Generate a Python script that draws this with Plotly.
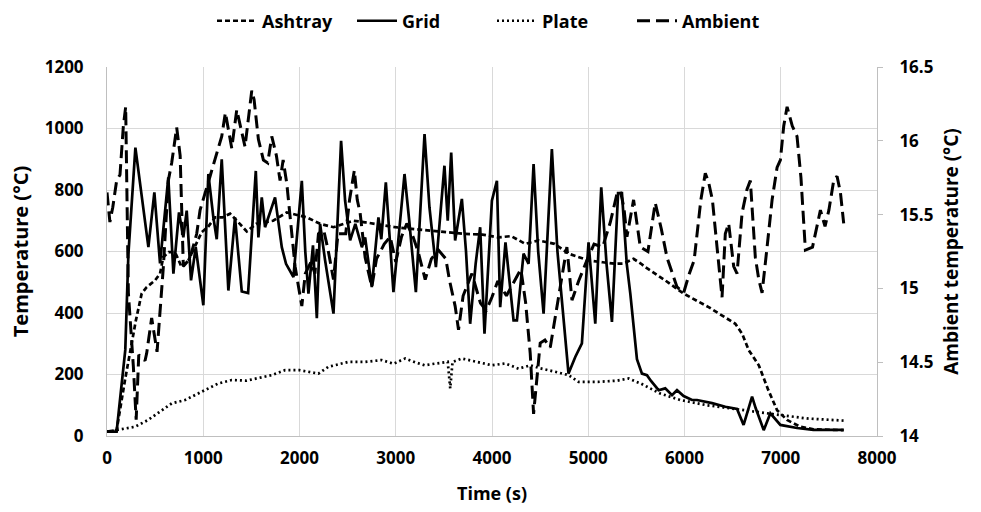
import plotly.graph_objects as go

# ---- data ----
grid_t = [0, 100, 190, 222, 295, 430, 492, 551, 637, 690, 748, 793, 828, 873, 922, 1001, 1053, 1105, 1140, 1192,
          1261, 1330, 1400, 1466, 1546, 1573, 1608, 1642, 1746, 1816, 1860, 1937, 2024, 2060, 2093, 2140, 2180,
          2214, 2266, 2353, 2432, 2474, 2526, 2580, 2648, 2682, 2751, 2820, 2850, 2897, 2976, 3091, 3140, 3209,
          3299, 3350, 3417, 3506, 3540, 3576, 3617, 3687, 3730, 3773, 3830, 3877, 3922, 3999, 4051, 4085, 4140,
          4180, 4224, 4259, 4328, 4380, 4432, 4480, 4536, 4622, 4680, 4795, 4865, 4934, 5003, 5073, 5135, 5190,
          5246, 5310, 5350, 5400, 5437, 5506, 5558, 5610, 5650, 5731, 5800, 5870, 5922, 5991, 6078, 6130, 6286,
          6424, 6546, 6614, 6702, 6740, 6823, 6892, 6996, 7169, 7339, 7654]
grid_v = [14, 14, 280, 590, 938, 614, 792, 561, 841, 528, 727, 646, 733, 506, 614, 425, 852, 711, 640, 900,
          473, 711, 470, 465, 862, 646, 776, 679, 776, 614, 560, 517, 830, 600, 463, 620, 383,
          690, 571, 398, 960, 765, 636, 690, 614, 646, 484, 711, 640, 825, 468, 852, 700, 468,
          982, 744, 549, 879, 700, 922, 636, 771, 600, 365, 560, 679, 333, 765, 830, 419, 630,
          500, 376, 376, 593, 560, 884, 600, 398, 933, 600, 203, 257, 301, 630, 365, 809, 560,
          371, 790, 790, 560, 463, 250, 203, 198, 180, 149, 155, 133, 149, 130, 117, 117, 107,
          95, 88, 36, 128, 90, 19, 74, 36, 26, 20, 20]

ash_t = [0, 100, 187, 257, 300, 360, 412, 499, 551, 585, 640, 707, 776, 845, 910, 984, 1050, 1123, 1200, 1279,
         1380, 1452, 1550, 1726, 1868, 2076, 2214, 2353, 2561, 2682, 2994, 3375, 3583, 3721, 3900, 4068, 4200,
         4345, 4483, 4650, 4795, 5003, 5150, 5281, 5367, 5471, 5550, 5593, 5800, 5991, 6251, 6528, 6598, 6668,
         6772, 6870, 6962, 7066, 7204, 7339, 7654]
ash_v = [14, 19, 182, 301, 376, 463, 484, 506, 528, 582, 598, 598, 549, 571, 614, 663, 680, 711, 711, 723,
         690, 665, 690, 700, 727, 711, 690, 679, 700, 695, 679, 668, 663, 657, 655, 646, 650,
         625, 636, 625, 593, 571, 565, 560, 561, 576, 560, 549, 506, 463, 419, 365, 333, 279,
         230, 150, 84, 52, 30, 22, 19]

plate_t = [0, 100, 291, 426, 569, 672, 811, 915, 1019, 1157, 1296, 1450, 1712, 1850, 2000, 2197, 2300, 2508,
           2682, 2855, 2976, 3098, 3200, 3299, 3400, 3540, 3566, 3590, 3687, 3850, 3999, 4137, 4276, 4400,
           4500, 4657, 4795, 4899, 5100, 5300, 5419, 5550, 5748, 5956, 6234, 6476, 6718, 6996, 7273, 7654]
plate_v = [14, 19, 30, 52, 84, 106, 117, 133, 149, 171, 182, 180, 198, 214, 214, 203, 225, 241,
           241, 247, 235, 252, 240, 230, 235, 241, 155, 241, 252, 241, 230, 236, 219, 230,
           220, 209, 198, 176, 176, 180, 187, 170, 138, 117, 100, 90, 79, 68, 57, 50]

amb_t = [0, 30, 60, 100, 135, 170, 194, 222, 274, 303, 330, 395, 412, 464, 520, 586, 637, 672, 724, 760, 793,
         860, 932, 967, 1071, 1192, 1230, 1296, 1348, 1400, 1434, 1504, 1528, 1573, 1625, 1670, 1712, 1760,
         1798, 1830, 1868, 1954, 2024, 2060, 2120, 2160, 2197, 2250, 2300, 2353, 2400, 2480, 2520, 2570,
         2600, 2630, 2682, 2751, 2800, 2880, 2942, 3000, 3060, 3115, 3180, 3236, 3306, 3370, 3444, 3520,
         3560, 3617, 3652, 3700, 3791, 3880, 3940, 3999, 4060, 4150, 4259, 4300, 4350, 4397, 4432, 4501,
         4550, 4605, 4709, 4778, 4831, 4900, 4986, 5060, 5150, 5230, 5298, 5333, 5370, 5402, 5471, 5541,
         5620, 5696, 5760, 5818, 5922, 5991, 6050, 6100, 6170, 6216, 6250, 6290, 6338, 6390, 6424, 6459,
         6511, 6546, 6598, 6649, 6684, 6736, 6772, 6806, 6858, 6910, 6962, 6996, 7031, 7066, 7120, 7169,
         7210, 7256, 7330, 7380, 7412, 7460, 7500, 7550, 7585, 7620, 7654]
amb_v = [15.65, 15.45, 15.55, 15.73, 15.77, 16.10, 16.23, 14.97, 14.47, 14.11, 14.55, 14.51, 14.56, 14.80,
         14.57, 15.15, 15.73, 15.85, 16.09, 15.90, 15.15, 15.20, 15.37, 15.53, 15.76, 16.03, 16.19, 15.95,
         16.21, 16.05, 15.96, 16.34, 16.28, 16.01, 15.87, 15.85, 16.03, 15.90, 15.73, 15.87, 15.71, 15.15,
         14.88, 15.10, 15.18, 15.10, 15.37, 15.40, 15.25, 15.06, 15.37, 15.37, 15.60, 15.80, 15.60, 15.51,
         15.21, 15.01, 15.20, 15.30, 15.35, 15.18, 15.35, 15.44, 15.35, 15.24, 15.06, 15.20, 15.26, 15.20,
         15.05, 14.88, 14.72, 14.95, 15.10, 14.90, 14.85, 14.94, 15.05, 14.95, 15.08, 15.13, 14.90, 14.56,
         14.15, 14.63, 14.65, 14.60, 15.01, 15.28, 14.92, 15.05, 15.19, 15.30, 15.28, 15.45, 15.64, 15.66,
         15.55, 15.35, 15.60, 15.28, 15.25, 15.58, 15.40, 15.21, 15.01, 14.97, 15.10, 15.19, 15.60, 15.78,
         15.72, 15.60, 15.28, 14.94, 15.37, 15.44, 15.15, 15.10, 15.51, 15.67, 15.73, 15.21, 15.06, 14.97,
         15.28, 15.60, 15.82, 15.87, 16.10, 16.23, 16.10, 16.03, 15.75, 15.26, 15.28, 15.42, 15.53, 15.42,
         15.53, 15.73, 15.76, 15.65, 15.44]

x_ticks = [0, 1000, 2000, 3000, 4000, 5000, 6000, 7000, 8000]
y_ticks = [0, 200, 400, 600, 800, 1000, 1200]
y2_ticks = [14, 14.5, 15, 15.5, 16, 16.5]
y2_labels = ["14", "14.5", "15", "15.5", "16", "16.5"]

FONT = "Open Sans"
GRID = "#d9d9d9"
AXIS = "#bfbfbf"

fig = go.Figure()
fig.add_trace(go.Scatter(x=ash_t, y=ash_v, name="Ashtray", mode="lines",
                         line=dict(color="black", width=2.7, dash="5px,3px")))
fig.add_trace(go.Scatter(x=grid_t, y=grid_v, name="Grid", mode="lines",
                         line=dict(color="black", width=2.7)))
fig.add_trace(go.Scatter(x=plate_t, y=plate_v, name="Plate", mode="lines",
                         line=dict(color="black", width=2.7, dash="2px,3px")))
fig.add_trace(go.Scatter(x=amb_t, y=amb_v, name="Ambient", mode="lines", yaxis="y2",
                         line=dict(color="black", width=3, dash="13px,6px")))

fig.update_layout(
    width=981, height=512,
    margin=dict(l=107, r=104, t=67, b=76),
    paper_bgcolor="white", plot_bgcolor="white",
    font=dict(family=FONT, size=17, color="black", weight="bold"),
    showlegend=True,
    legend=dict(orientation="h", x=0.5, xanchor="center", y=0.995, yref="container", yanchor="top",
                font=dict(family=FONT, size=18, weight="bold"), traceorder="normal",
                itemwidth=40, tracegroupgap=0, entrywidth=85, entrywidthmode="pixels"),
    xaxis=dict(range=[0, 8000], tickvals=x_ticks, showgrid=True, gridcolor=GRID, gridwidth=1,
               showline=True, linecolor=AXIS, linewidth=1, zeroline=False,
               ticks="", ticklabelstandoff=7,
               title=dict(text="Time (s)", font=dict(size=18, weight="bold"), standoff=18)),
    yaxis=dict(range=[0, 1200], tickvals=y_ticks, showgrid=True, gridcolor=GRID, gridwidth=1,
               showline=True, linecolor=AXIS, linewidth=1, zeroline=False, mirror=False,
               ticks="", ticklabelstandoff=19,
               title=dict(text="Temperature (°C)", font=dict(size=20, weight="bold"), standoff=10)),
    yaxis2=dict(range=[14, 16.5], tickvals=y2_ticks, ticktext=y2_labels, overlaying="y", side="right",
                showgrid=False, showline=True, linecolor=AXIS, linewidth=1, zeroline=False,
                ticks="outside", ticklen=5, tickcolor=AXIS, ticklabelstandoff=13,
                title=dict(text="Ambient temperature (°C)", font=dict(size=19, weight="bold"), standoff=12)),
)

fig.write_html("out.html")
